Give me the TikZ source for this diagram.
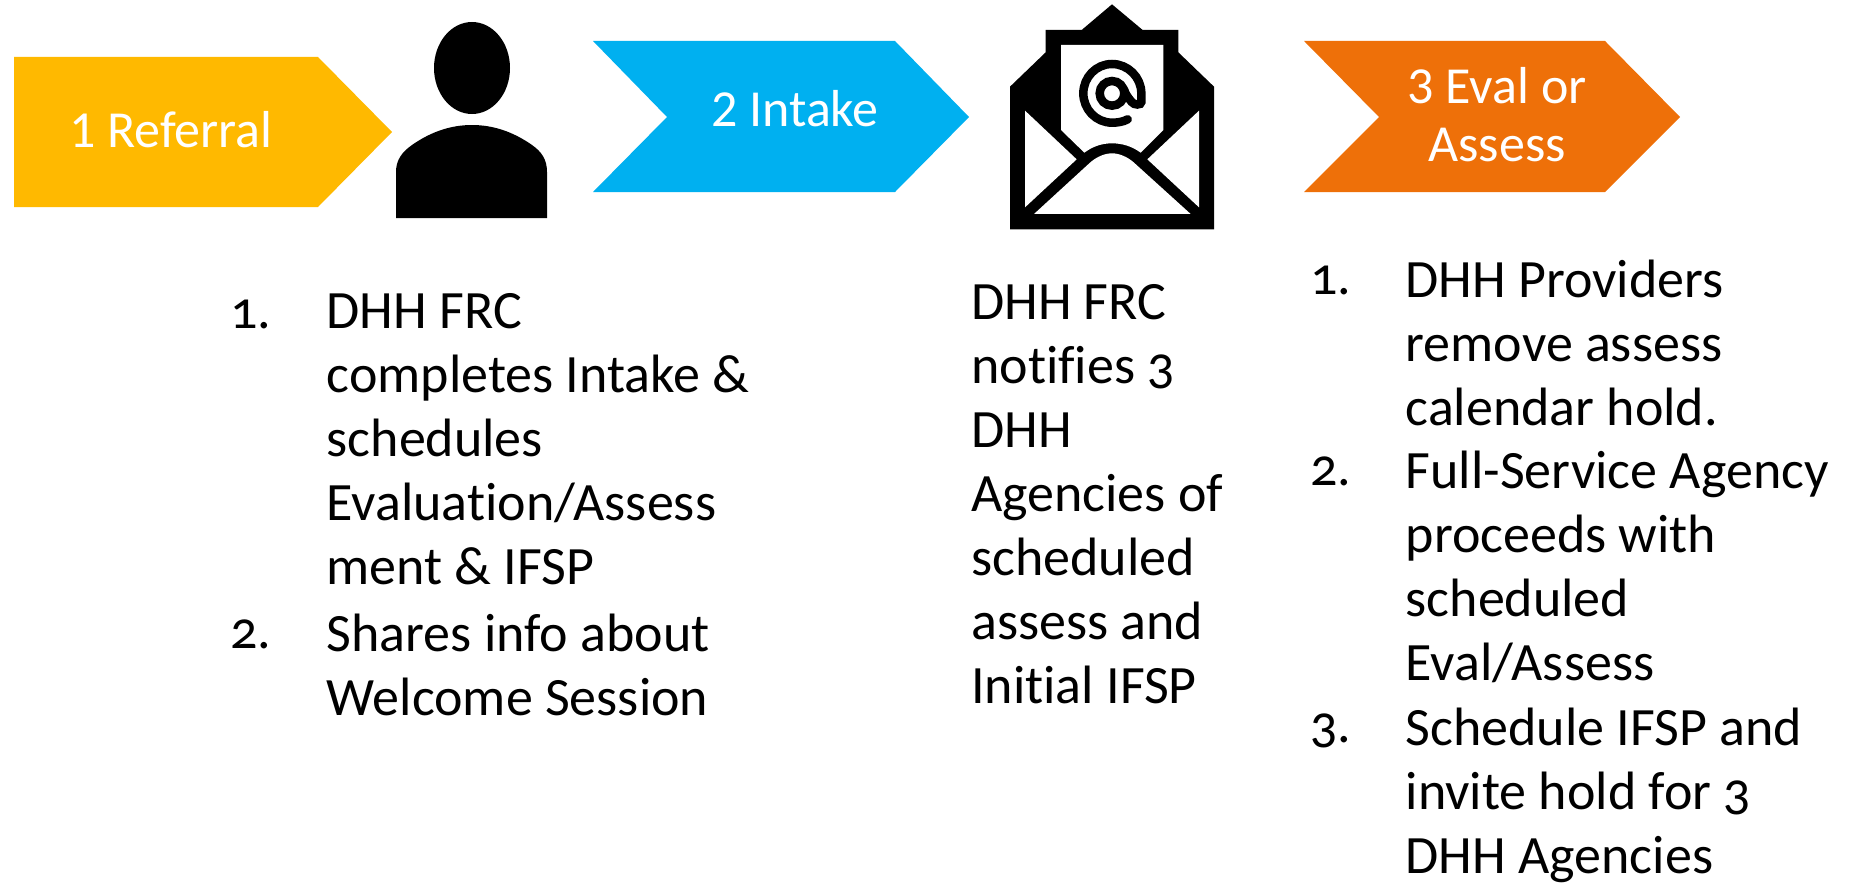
\documentclass[tikz,border=0pt]{standalone}
\usepackage{fontspec}
\setmainfont{Carlito}
\newfontfamily\bodyfont[Numbers=OldStyle,Ligatures=NoCommon]{Carlito}
\definecolor{cyel}{HTML}{FFB900}
\definecolor{cblu}{HTML}{00B0F0}
\definecolor{corg}{HTML}{EE7009}
\tikzset{
 lab/.style={text=white,font=\fontsize{52}{58}\selectfont,align=center,inner sep=0pt},
 body/.style={text=black,font=\bodyfont\fontsize{54}{64}\selectfont,align=left,anchor=north west,inner sep=0pt},
 num/.style={text=black,font=\bodyfont\fontsize{54}{64}\selectfont,anchor=north west,inner sep=0pt},
}
\begin{document}
\begin{tikzpicture}[x=1pt,y=-1pt]
\useasboundingbox (0,0) rectangle (1868,883);
\fill[cyel] (14,57)--(318,57)--(392,132)--(318,207)--(14,207)--cycle;
\fill[cblu] (593,41)--(895,41)--(969,117)--(895,192)--(593,192)--(667,117)--cycle;
\fill[corg] (1304,41)--(1605,41)--(1680,117)--(1605,192)--(1304,192)--(1379,117)--cycle;
\node[lab] (a1) at (171,130) {1 Referral};
\node[lab] (a2) at (795,109) {2 Intake};
\node[lab] (a3) at (1497,115) {3 Eval or\\Assess};
% person
\fill (472,68) ellipse (38 and 46);
\fill (396,218) -- (396,172) .. controls (396,160) and (402,152) .. (412,145) .. controls (432,131) and (452,125) .. (472,125) .. controls (492,125) and (512,131) .. (532,145) .. controls (542,152) and (547,160) .. (547,172) -- (547,218) -- cycle;
% envelope
\begin{scope}[shift={(990pt,0pt)},x=0.33333pt,y=-0.33333pt]
\fill (60,260)--(167,157)--(167,90)--(275,90)--(366,13)--(458,90)--(565,90)--(565,157)--(672,260)--(672,688)--(60,688)--cycle;
\fill[white] (213,135)--(520,135)--(520,390)--(452,458) .. controls (425,438) and (395,430) .. (366,430) .. controls (337,430) and (310,438) .. (283,458)--(213,390)--cycle;
\fill[white] (105,332)--(260,478)--(105,622)--cycle;
\fill[white] (627,332)--(472,478)--(627,622)--cycle;
\fill[white] (132,642)--(300,488) .. controls (320,470) and (345,460) .. (366,460) .. controls (387,460) and (412,470) .. (432,488)--(602,642)--cycle;
\draw[line width=8.5pt] (366,280) circle (37);
\draw[line width=8.5pt,line cap=round] (413,358) .. controls (398,366) and (382,368) .. (366,368) .. controls (318,368) and (280,328) .. (280,280) .. controls (280,232) and (318,192) .. (366,192) .. controls (414,192) and (454,232) .. (454,280) -- (454,306) .. controls (454,316) and (432,316) .. (425,306) .. controls (412,290) and (405,280) .. (403,270);
\end{scope}
% texts
\node[num] (n11) at (230,293.5) {\vphantom{D}1.};
\node[num] (n12) at (230,613.5) {\vphantom{D}2.};
\node[body] (t11) at (326.5,293.5) {DHH FRC\\completes Intake \&\\schedules\\Evaluation/Assess\\ment \& IFSP};
\node[body] (t12) at (326.5,613.5) {Shares info about\\Welcome Session};
\node[body] (t2) at (971,284) {DHH FRC\\notifies 3\\DHH\\Agencies of\\scheduled\\assess and\\Initial IFSP};
\node[num] (n31) at (1310,260) {\vphantom{D}1.};
\node[num] (n32) at (1310,451) {\vphantom{D}2.};
\node[num] (n33) at (1310,708) {\vphantom{D}3.};
\node[body] (t31) at (1405.5,260) {DHH Providers\\remove assess\\calendar hold.};
\node[body] (t32) at (1405.5,451) {Full-Service Agency\\proceeds with\\scheduled\\Eval/Assess};
\node[body] (t33) at (1405.5,708) {Schedule IFSP and\\invite hold for 3\\DHH Agencies};
\end{tikzpicture}
\end{document}
